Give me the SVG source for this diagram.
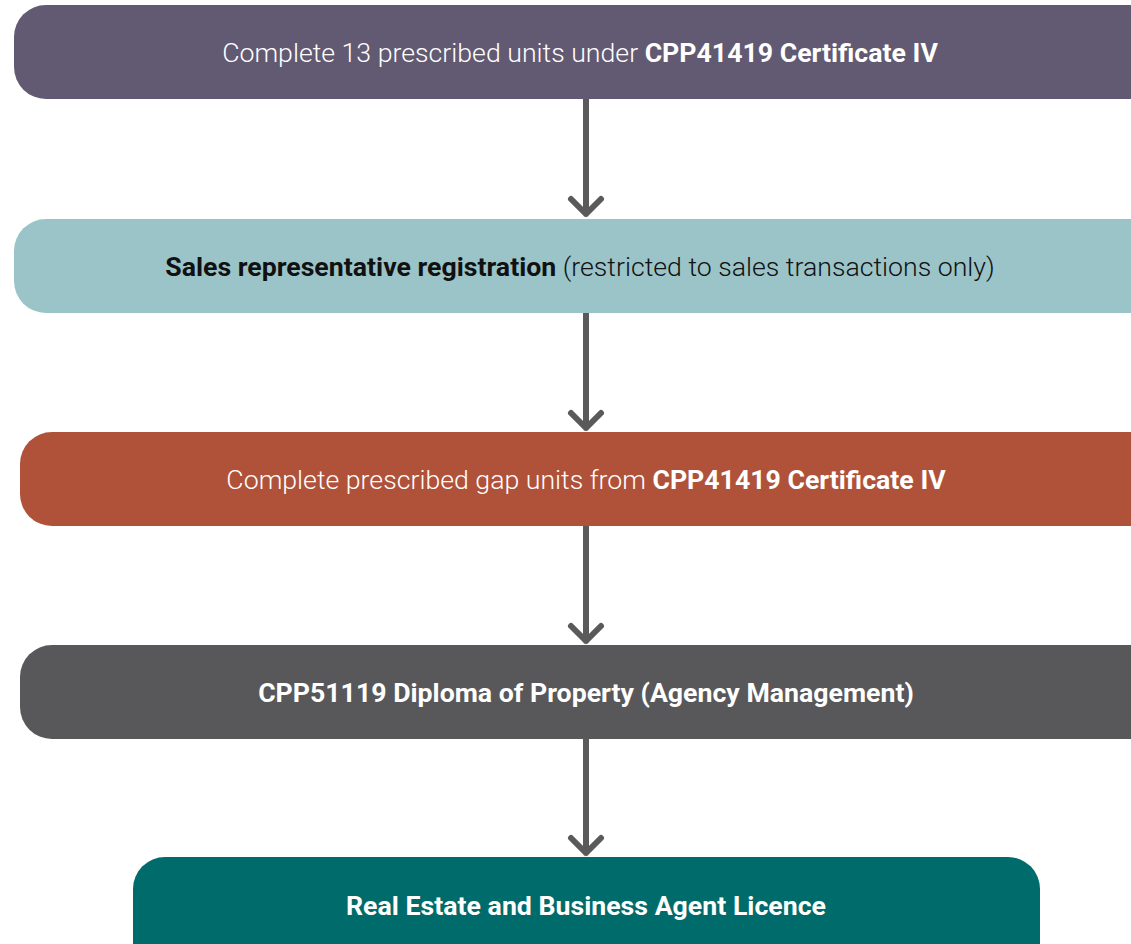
<svg xmlns="http://www.w3.org/2000/svg" width="1131" height="944" viewBox="0 0 1131 944">
<defs>
<style>
.t{font-family:Roboto,"Liberation Sans",sans-serif;font-size:26.7px;text-anchor:middle}
.l{font-weight:300}
.b{font-weight:700}
.w{fill:#ffffff}
.k{fill:#111111}
.c{stroke:#5a5a5a;stroke-width:6;fill:none;stroke-linecap:round;stroke-linejoin:round}
</style>
</defs>
<rect width="1131" height="944" fill="#ffffff"/>
<g id="connectors">
<path class="c" d="M586 99V214M571 199L586 214L601 199"/>
<path class="c" d="M586 313V428M571 413L586 428L601 413"/>
<path class="c" d="M586 526V641M571 626L586 641L601 626"/>
<path class="c" d="M586 739V853M571 838L586 853L601 838"/>
</g>
<g id="n1">
<rect x="14" y="5" width="1150" height="94" rx="32" fill="#625a72"/>
<text class="t w" x="580" y="62"><tspan class="l">Complete 13 prescribed units under </tspan><tspan class="b">CPP41419 Certificate IV</tspan></text>
</g>
<g id="n2">
<rect x="14" y="219" width="1150" height="94" rx="32" fill="#9bc4c8"/>
<text class="t k" x="580" y="276"><tspan class="b">Sales representative registration</tspan><tspan class="l"> (restricted to sales transactions only)</tspan></text>
</g>
<g id="n3">
<rect x="20" y="432" width="1150" height="94" rx="32" fill="#b0523a"/>
<text class="t w" x="586" y="489"><tspan class="l">Complete prescribed gap units from </tspan><tspan class="b">CPP41419 Certificate IV</tspan></text>
</g>
<g id="n4">
<rect x="20" y="645" width="1150" height="94" rx="32" fill="#58585a"/>
<text class="t w b" x="586" y="702">CPP51119 Diploma of Property (Agency Management)</text>
</g>
<g id="n5">
<rect x="133" y="857" width="907" height="120" rx="32" fill="#006b6b"/>
<text class="t w b" x="586" y="915">Real Estate and Business Agent Licence</text>
</g>
</svg>
